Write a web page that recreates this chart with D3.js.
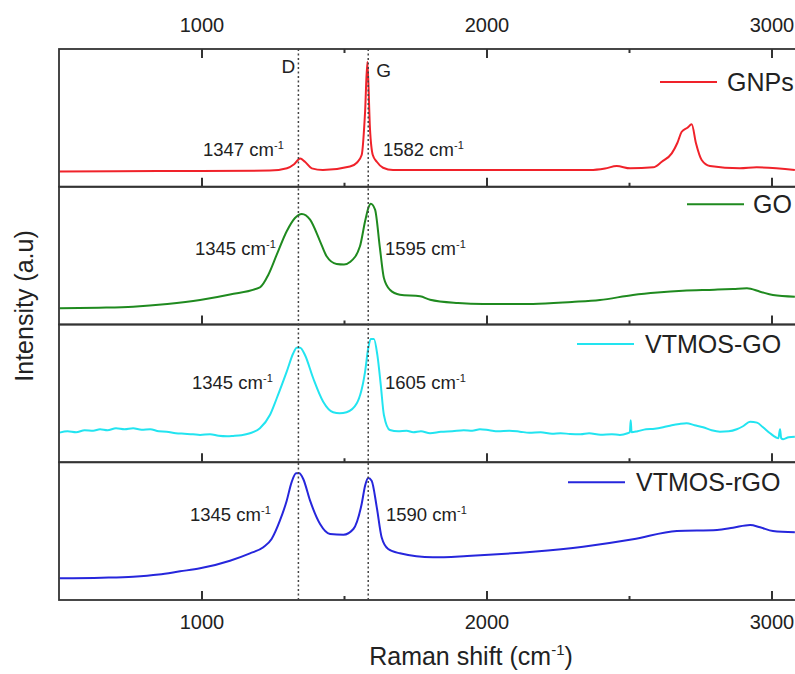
<!DOCTYPE html>
<html>
<head>
<meta charset="utf-8">
<script src="https://cdn.jsdelivr.net/npm/d3@7"></script>
<style>
  body { margin: 0; background: #fff; }
  text { font-family: "Liberation Sans", Arial, sans-serif; fill: #222; }
</style>
</head>
<body>
<svg id="chart" width="795" height="674"></svg>
<script>
// series, top to bottom
var series_names = ['GNPs', 'GO', 'VTMOS-GO', 'VTMOS-rGO']

// [Raman shift (cm-1), intensity (a.u.)]
var gnps = [[502,15.2],[700,15.6],[995,15.7],[1240,16.2],[1300,18.5],[1325,22.5],[1346,28.2],[1363,25],[1387,18.4],[1426,16.7],
    [1521,20.2],[1545,24],[1562,31.7],[1574,75],[1582,125],[1591,58.7],[1601,31.7],[1615,25],[1637,19],[1672,16.7],
    [1998,16.7],[2363,16.7],[2416,18.2],[2457,20.7],[2504,18.4],[2585,19.4],[2615,25],[2650,33.4],[2670,44],[2685,55],
    [2705,59],[2720,62.4],[2735,43.4],[2755,26.7],[2784,20.7],[2889,18.4],[2948,19.4],[3082,16.7]]
var go = [[502,16.2],[640,16.8],[760,17.8],[880,20.5],[995,24.5],[1100,30],[1205,37.2],[1235,50],[1264,69.8],[1299,93.2],
    [1328,106.5],[1352,110.5],[1381,104.8],[1416,83.2],[1439,68.2],[1474,60.5],[1500,60],[1521,62.5],[1556,78.2],
    [1574,103.2],[1586,117],[1594,120.8],[1609,114.8],[1626,76.5],[1640,46.5],[1661,34.8],[1696,29.8],[1767,28.2],
    [1802,24.8],[1900,21.5],[1988,20.5],[2163,20.5],[2300,22.5],[2398,24.5],[2514,29.5],[2600,32],[2689,33.8],
    [2800,34.8],[2865,35.5],[2914,36.2],[2960,32.8],[3005,29.5],[3082,27.8]]
var vtmos_go = [[502,29.6],[530,31],[560,30],[590,32],[620,31.5],[644,33],[670,32],[700,34],[730,33],[760,34],[790,32.5],
    [820,33],[850,31],[878,30.6],[910,29],[940,28.5],[970,28],[995,27.3],[1030,28],[1060,26.5],[1090,26],[1111,26.3],
    [1140,27],[1170,29],[1205,34],[1240,47.2],[1264,64],[1299,90.6],[1322,109],[1334,114.6],[1346,114.6],[1363,107.3],
    [1392,84],[1427,60.6],[1462,50],[1485,49],[1509,50],[1545,59],[1574,90.6],[1585,114],[1594,123.3],[1605,123.3],
    [1617,107.3],[1629,77.3],[1640,47.3],[1661,32.3],[1690,31],[1720,31.5],[1743,30],[1770,31],[1802,29],[1840,30.5],
    [1880,31],[1920,32],[1950,31.5],[1977,33],[2010,32],[2040,31],[2080,31.5],[2117,30.6],[2150,29.5],[2190,30],
    [2230,28.5],[2260,29],[2293,28.3],[2330,28],[2360,29],[2400,27.5],[2440,28],[2468,27.3],[2495,29],[2503,30],
    [2506,42],[2509,30],[2530,31],[2560,33],[2590,33.5],[2620,35],[2650,37],[2677,38.3],[2702,39],[2730,37],[2760,35],
    [2790,32],[2819,30.6],[2850,31],[2878,33],[2900,36],[2925,40.6],[2949,39.6],[2970,35],[2995,29],[3015,25],[3024,24],
    [3030,33],[3034,24],[3041,23],[3060,25],[3082,25.6]]
var vtmos_rgo = [[502,21.7],[650,22.3],[760,23.3],[850,25.5],[925,28.7],[995,31.7],[1100,39.3],[1170,46.7],[1217,52.7],
    [1246,61],[1275,79.3],[1299,99.3],[1316,117.7],[1332,126.7],[1343,126.7],[1357,121],[1381,99.3],[1416,76],[1451,66],
    [1498,65.3],[1533,71],[1562,96],[1574,114.3],[1585,122],[1597,119.3],[1615,92.7],[1632,62.7],[1655,51],[1696,46.7],
    [1812,42.7],[1932,44],[2163,48.3],[2339,53.3],[2514,60.7],[2668,69],[2809,70],[2865,72.3],[2925,75],[2960,72.7],
    [3005,69],[3082,67.7]]
var spectra = [gnps, go, vtmos_go, vtmos_rgo]

// peak positions written on each panel
var d_peak_labels = [1347, 1345, 1345, 1345]
var g_peak_labels = [1582, 1595, 1605, 1590]
// dotted guide lines
var guide_names = ['D', 'G']
var guide_shifts = [1340, 1585]

var major_ticks = [1000, 2000, 3000]
var minor_ticks = [1500, 2500]

var width = 795, height = 674
var plot_left = 59, plot_top = 49, plot_bottom = 600
var frame_color = '#333'
var colors = d3.scaleOrdinal().domain(series_names).range(['#f0222a', '#1f8a1f', '#22e4f0', '#2626dc'])

var svg = d3.select('#chart')

var x = d3.scaleLinear().domain([500, 3200]).range([plot_left, plot_left + 2700 * 0.285])
var panel = d3.scaleBand().domain(series_names).range([plot_top, plot_bottom])
var panel_h = panel.bandwidth()

// label positions (px) - left label start, right label start, baseline offset from panel top
var label_layout = [[203, 383, 106.5], [195, 385, 68], [192, 385, 64], [190, 386, 58.5]]
// legend: line start x, text start x, y offset from panel top
var legend_layout = [[660, 727, 33], [687, 753, 17.5], [577, 645, 19.5], [568, 636, 20]]

var line = d3.line()
    .x(function(d) { return x(d[0]) })
    .curve(d3.curveMonotoneX)

series_names.forEach(function(name, i) {
    var top = panel(name)
    var y = d3.scaleLinear().domain([0, panel_h]).range([top + panel_h, top])
    var g = svg.append('g').attr('class', 'panel').attr('id', 'panel_' + i)

    g.append('path')
        .datum(spectra[i])
        .attr('fill', 'none')
        .attr('stroke', colors(name))
        .attr('stroke-width', 2)
        .attr('stroke-linejoin', 'round')
        .attr('d', line.y(function(d) { return y(d[1]) }))

    // peak annotations
    var lab = label_layout[i]
    var ann = [[lab[0], d_peak_labels[i]], [lab[1], g_peak_labels[i]]]
    ann.forEach(function(a) {
        var t = g.append('text')
            .attr('x', a[0]).attr('y', top + lab[2])
            .style('font-size', '18.5px')
        t.append('tspan').text(a[1] + ' cm')
        t.append('tspan').attr('dy', -7).style('font-size', '11px').text('-1')
    })

    // legend
    var lg = legend_layout[i]
    g.append('line')
        .attr('x1', lg[0]).attr('x2', lg[0] + 57)
        .attr('y1', top + lg[2]).attr('y2', top + lg[2])
        .attr('stroke', colors(name)).attr('stroke-width', 2)
    g.append('text')
        .attr('x', lg[1]).attr('y', top + lg[2] + 9)
        .style('font-size', '25px')
        .text(name)

    // inward ticks on the bottom edge of every panel
    var show_labels = (i == series_names.length - 1)
    var ax = g.append('g').attr('transform', 'translate(0,' + (top + panel_h) + ')')
        .call(d3.axisBottom(x).tickValues(major_ticks).tickSizeInner(-9).tickSizeOuter(0).tickPadding(15)
            .tickFormat(show_labels ? d3.format('d') : ''))
    ax.append('g').call(d3.axisBottom(x).tickValues(minor_ticks).tickSizeInner(-4).tickSizeOuter(0).tickFormat(''))
    ax.selectAll('.tick line').attr('stroke', frame_color).attr('stroke-width', 2)
    ax.selectAll('.domain').attr('stroke', 'none')
    ax.selectAll('text').style('font-size', '20px').style('font-family', '"Liberation Sans", Arial, sans-serif').attr('fill', '#222')

    g.append('rect')
        .attr('x', plot_left).attr('y', top)
        .attr('width', x.range()[1] - plot_left).attr('height', panel_h)
        .attr('fill', 'none').attr('stroke', frame_color).attr('stroke-width', 1.8)
})

// top axis with labels
var top_axis = svg.append('g').attr('transform', 'translate(0,' + plot_top + ')')
    .call(d3.axisTop(x).tickValues(major_ticks).tickSizeInner(-9).tickSizeOuter(0).tickPadding(17).tickFormat(d3.format('d')))
top_axis.append('g').call(d3.axisTop(x).tickValues(minor_ticks).tickSizeInner(-4).tickSizeOuter(0).tickFormat(''))
top_axis.selectAll('.tick line').attr('stroke', frame_color).attr('stroke-width', 2)
top_axis.selectAll('.domain').attr('stroke', 'none')
top_axis.selectAll('text').style('font-size', '20px').style('font-family', '"Liberation Sans", Arial, sans-serif').attr('fill', '#222')

// dotted D and G guides across all panels
svg.selectAll('.guide')
    .data(guide_shifts)
    .enter().append('line')
        .attr('class', 'guide')
        .attr('x1', function(d) { return x(d) }).attr('x2', function(d) { return x(d) })
        .attr('y1', plot_top).attr('y2', plot_bottom)
        .attr('stroke', '#444').attr('stroke-width', 1.5)
        .attr('stroke-dasharray', '2,2.5')

// FIXME: letter offsets picked by eye
svg.append('text').attr('x', x(guide_shifts[0]) - 17).attr('y', 73).style('font-size', '19px').text(guide_names[0])
svg.append('text').attr('x', x(guide_shifts[1]) + 8).attr('y', 77).style('font-size', '19px').text(guide_names[1])

// axis titles
var xt = svg.append('text')
    .attr('x', 471).attr('y', 665)
    .attr('text-anchor', 'middle')
    .style('font-size', '25px')
xt.append('tspan').text('Raman shift (cm')
xt.append('tspan').attr('dy', -10).style('font-size', '15px').text('-1')
xt.append('tspan').attr('dy', 10).text(')')

svg.append('text')
    .attr('transform', 'translate(33,306) rotate(-90)')
    .attr('text-anchor', 'middle')
    .style('font-size', '25px')
    .text('Intensity (a.u)')
</script>
</body>
</html>
